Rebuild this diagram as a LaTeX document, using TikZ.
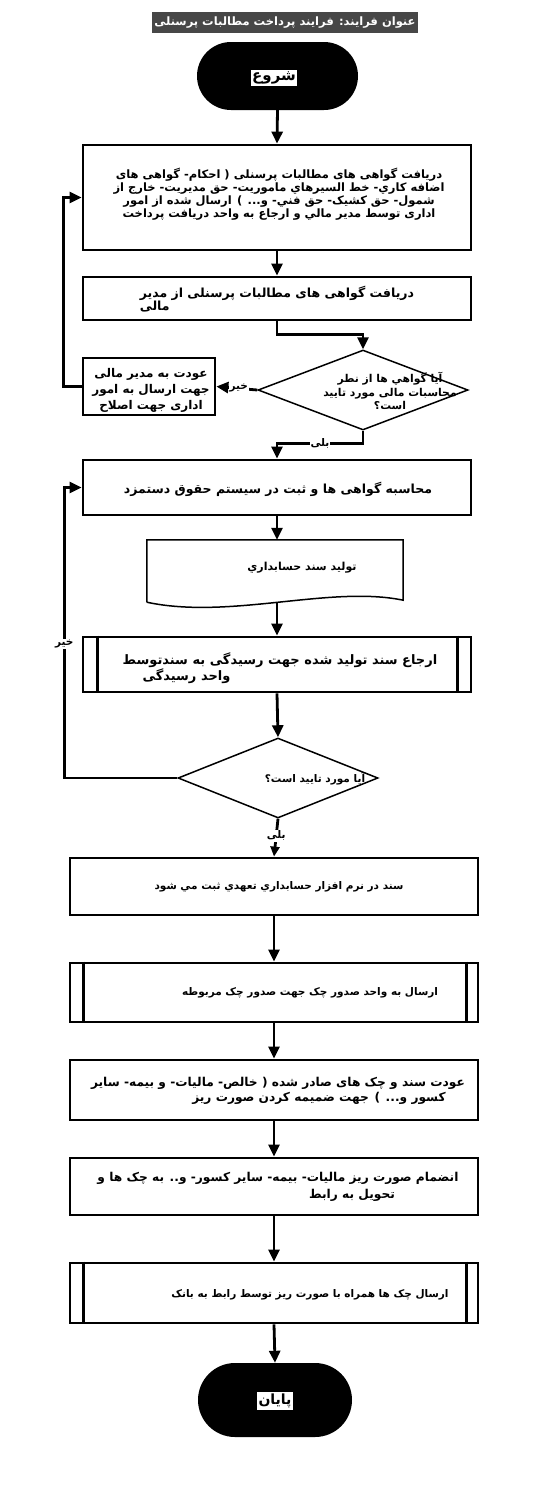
\documentclass[tikz,border=0pt]{standalone}
\usepackage{fontspec}
\usetikzlibrary{arrows.meta,shapes.geometric}
\TeXXeTstate=1
\newfontfamily\fa[Script=Arabic]{DejaVu Sans}
\newcommand{\rl}[1]{\beginR #1\endR}
\newcommand{\fs}[2]{\fa\bfseries\fontsize{#1}{#2}\selectfont}
\definecolor{titlegray}{HTML}{474747}
\tikzset{
  box/.style={draw, line width=2.8pt, rectangle, inner sep=0pt},
  term/.style={fill=black, rectangle, rounded corners=34pt, inner sep=0pt},
  termtxt/.style={fill=white, text=black, inner sep=1.5pt},
  dia/.style={draw, line width=1.5pt, diamond, inner sep=0pt},
  txt/.style={inner sep=0pt, font=\fs{10}{12.5}},
  arr/.style={line width=2.8pt, -{Triangle[length=12pt,width=11pt]}},
  lbl/.style={fill=white, inner sep=1pt, font=\fs{10.5}{11}},
}
\begin{document}
\begin{tikzpicture}[x=1pt,y=-1pt]
\useasboundingbox (0,0) rectangle (542,1500);
\fill[white] (0,0) rectangle (542,1500);

% title
\node[fill=titlegray, text=white, minimum width=266pt, minimum height=21pt, inner sep=0pt,
      font=\fs{11.5}{12}] (title) at (285,22.5)
  {\rl{عنوان فرایند: فرایند پرداخت مطالبات پرسنلی}};

% start
\node[term, minimum width=161pt, minimum height=68pt] (start) at (277.5,76) {};
\node[termtxt, font=\fs{15}{16}] (starttxt) at (274,78) {\rl{شروع}};

% box 1
\node[box, minimum width=388pt, minimum height=105pt] (b1) at (277,197.5) {};
\node[txt, align=center, font=\fs{11.5}{12.8}] (t1) at (279,194) {%
\rl{دریافت گواهی های مطالبات پرسنلی ( احکام- گواهی های}\\
\rl{اضافه کاري- خط السیرهاي ماموریت- حق مدیریت- خارج از}\\
\rl{شمول- حق کشیک- حق فني- و... ) ارسال شده از امور}\\
\rl{اداری توسط مدیر مالي و ارجاع به واحد دریافت پرداخت}};

% box 2
\node[box, minimum width=388pt, minimum height=43pt] (b2) at (277,298.5) {};
\node[txt, align=left, font=\fs{12.5}{12.5}] (t2) at (277,299) {%
\rl{دریافت گواهی های مطالبات پرسنلی از مدیر}\\
\rl{مالی}};

% diamond 1
\node[dia, minimum width=210pt, minimum height=80pt] (d1) at (363,390) {};
\node[txt, align=center, font=\fs{10.8}{13.5}] (td1) at (390,391) {%
\rl{آیا گواهي ها از نطر}\\
\rl{محاسبات مالی مورد تایید}\\
\rl{است؟}};

% side box
\node[box, minimum width=132pt, minimum height=57pt] (side) at (149,386.5) {};
\node[txt, align=center, font=\fs{12}{16}] (ts) at (151,390) {%
\rl{عودت به مدیر مالی}\\
\rl{جهت ارسال به امور}\\
\rl{اداری جهت اصلاح}};

% box 3
\node[box, minimum width=388pt, minimum height=55pt] (b3) at (277,487.5) {};
\node[txt, font=\fs{12.5}{14}] (t3) at (278,489) {\rl{محاسبه گواهی ها و ثبت در سیستم حقوق دستمزد}};

% document
\node[minimum width=256pt, minimum height=62pt, inner sep=0pt] (doc) at (275,571) {};
\draw[line width=1.5pt] (doc.south west) -- (doc.north west) -- (doc.north east)
  -- ([yshift=2pt]doc.south east) .. controls (330,585) and (230,620) .. (doc.south west);
\coordinate (docb) at (277,602);
\node[txt, font=\fs{11}{12}] (tdoc) at (302,568) {\rl{تولید سند حسابداري}};

% box 4
\node[box, minimum width=388pt, minimum height=55pt] (b4) at (277,664.5) {};
\draw[line width=2.8pt] ([xshift=16pt]b4.north west) -- ([xshift=16pt]b4.south west)
  ([xshift=-15pt]b4.north east) -- ([xshift=-15pt]b4.south east);
\node[txt, align=left, font=\fs{13}{13}] (t4) at (280,668) {%
\rl{ارجاع سند تولید شده جهت رسیدگی به سندتوسط}\\
\hspace*{20pt}\rl{واحد رسیدگی}};

% diamond 2
\node[dia, minimum width=200pt, minimum height=80pt] (d2) at (278,778) {};
\node[txt, font=\fs{10.5}{12}] (td2) at (315,779) {\rl{آیا مورد تایید است؟}};

% box 5
\node[box, minimum width=408pt, minimum height=57pt] (b5) at (274,886.5) {};
\node[txt, font=\fs{10.5}{12}] (t5) at (279,887) {\rl{سند در نرم افزار حسابداري تعهدي ثبت مي شود}};

% box 6
\node[box, minimum width=408pt, minimum height=59pt] (b6) at (274,992.5) {};
\draw[line width=2.8pt] ([xshift=15pt]b6.north west) -- ([xshift=15pt]b6.south west)
  ([xshift=-13pt]b6.north east) -- ([xshift=-13pt]b6.south east);
\node[txt, font=\fs{10.5}{12}] (t6) at (310,993) {\rl{ارسال به واحد صدور چک جهت صدور چک مربوطه}};

% box 7
\node[box, minimum width=408pt, minimum height=60pt] (b7) at (274,1090) {};
\node[txt, align=center, font=\fs{12.2}{15}] (t7) at (278,1090.5) {%
\rl{عودت سند و چک های صادر شده ( خالص- مالیات- و بیمه- سایر}\\
\hspace*{82pt}\rl{کسور و... ) جهت ضمیمه کردن صورت ریز}};

% box 8
\node[box, minimum width=408pt, minimum height=57pt] (b8) at (274,1186.5) {};
\node[txt, align=center, font=\fs{12.2}{17}] (t8) at (278,1186.5) {%
\rl{انضمام صورت ریز مالیات- بیمه- سایر کسور- و.. به چک ها و}\\
\hspace*{148pt}\rl{تحویل به رابط}};

% box 9
\node[box, minimum width=408pt, minimum height=60pt] (b9) at (274,1293) {};
\draw[line width=2.8pt] ([xshift=15pt]b9.north west) -- ([xshift=15pt]b9.south west)
  ([xshift=-13pt]b9.north east) -- ([xshift=-13pt]b9.south east);
\node[txt, font=\fs{10.5}{12}] (t9) at (310,1295) {\rl{ارسال چک ها همراه با صورت ریز توسط رابط به بانک}};

% end
\node[term, minimum width=154pt, minimum height=74pt, rounded corners=37pt] (end) at (275,1400) {};
\node[termtxt, font=\fs{14}{15}] (endtxt) at (275,1401) {\rl{پایان}};

% connectors
\draw[arr] (start.south) -- (b1.north);
\draw[arr] (b1.south) -- (b2.north);
\draw[arr] (b2.south) -- ++(0,13) -| (d1.north);
\draw[arr] (d1.west) -- node[lbl, pos=0.45] (l1) {\rl{خیر}} (side.east);
\draw[arr] (side.west) -- ++(-18,0) |- (b1.west);
\draw[arr] (d1.south) -- ++(0,13) -| node[lbl, pos=0.25] (l2) {\rl{بلی}} (b3.north);
\draw[arr] (b3.south) -- (doc.north -| b3.south);
\draw[arr] (docb) -- (b4.north);
\draw[arr] (b4.south) -- (d2.north);
\draw[arr] (d2.west) -- ++(-113,0) |- node[lbl, pos=0.23] (l3) {\rl{خیر}} (b3.west);
\draw[arr, -{Triangle[length=10pt,width=9pt]}] (d2.south) -- node[lbl, pos=0.45] (l4) {\rl{بلی}} (b5.north);
\draw[arr] (b5.south) -- (b6.north);
\draw[arr] (b6.south) -- (b7.north);
\draw[arr] (b7.south) -- (b8.north);
\draw[arr] (b8.south) -- (b9.north);
\draw[arr] (b9.south) -- (end.north);
\end{tikzpicture}
\end{document}
